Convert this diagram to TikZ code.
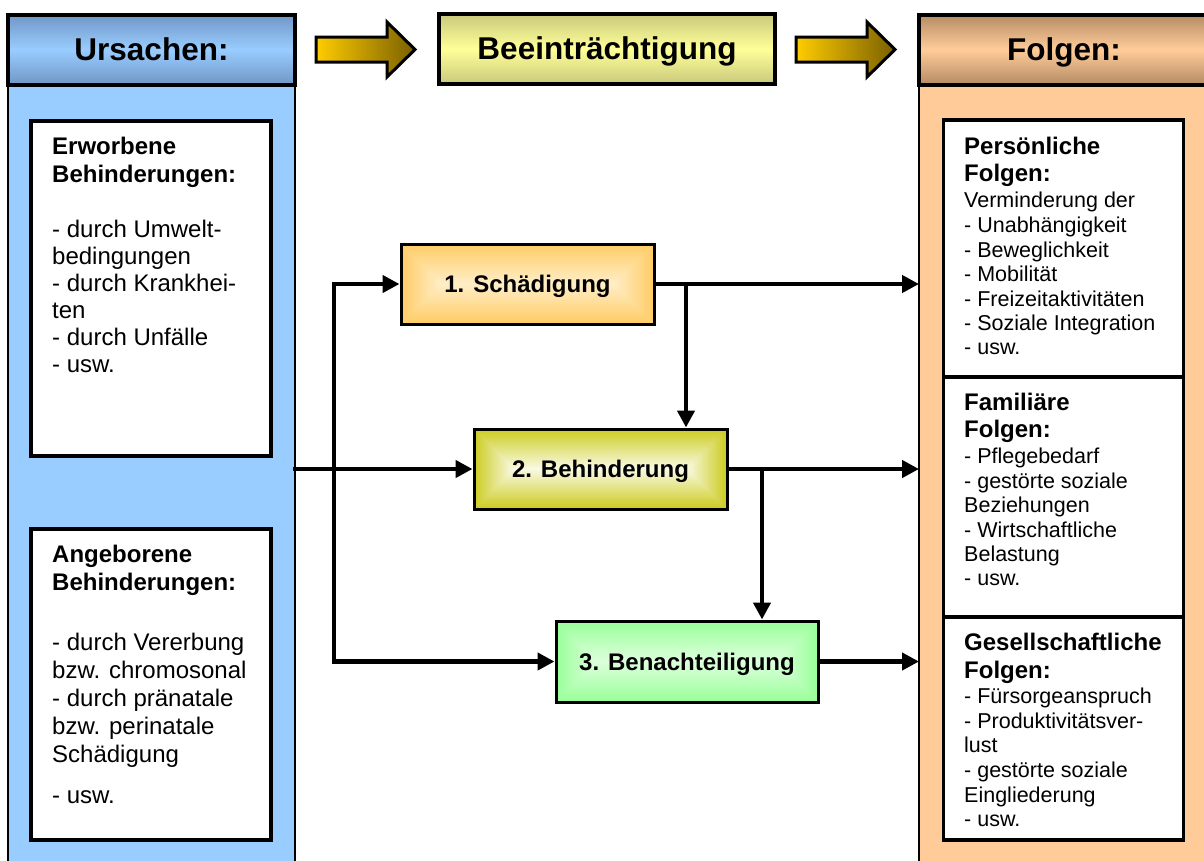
\documentclass[tikz,border=0pt]{standalone}
\usepackage{fontspec}
\setmainfont{Liberation Sans}
\usetikzlibrary{arrows.meta}

\definecolor{causefill}{HTML}{99CCFF}
\definecolor{causeshade}{HTML}{7097C6}
\definecolor{effectfill}{HTML}{FFCC99}
\definecolor{effectshade}{HTML}{B58B64}
\definecolor{impfill}{HTML}{FFFF99}
\definecolor{impshade}{HTML}{C9C97C}
\definecolor{harmout}{HTML}{FFCC66}
\definecolor{harmin}{HTML}{FFEEC8}
\definecolor{disout}{HTML}{CCCC22}
\definecolor{disin}{HTML}{FAFAE6}
\definecolor{handout}{HTML}{99FF99}
\definecolor{handin}{HTML}{DDFFDD}
\definecolor{arrowgold}{HTML}{FFCC00}
\definecolor{arrowdark}{HTML}{7A6000}

% rectangular glow: equal-inset rectangles from the outer colour to the inner one
% #1,#2 = upper left corner, #3,#4 = lower right corner, #5 = outer, #6 = inner colour
\newcommand\rectglow[6]{%
  \foreach \k in {0,...,40}{%
    \pgfmathsetmacro\ins{\k/40*((#4)-(#2))/2}%
    \pgfmathtruncatemacro\mix{100*\k/40}%
    \fill[#6!\mix!#5] ({#1+\ins},{#2+\ins}) rectangle ({#3-\ins},{#4-\ins});
  }}

% block arrow pointing right, #1 = left end of the shaft, #2 = tip (x only)
\newcommand\blockarrow[2]{%
  \shade[left color=arrowgold, right color=arrowdark, draw=black, line width=3pt,
         line join=miter]
    (#1,37) -- ({#2-28},37) -- ({#2-28},22) -- (#2,49.5) -- ({#2-28},77)
    -- ({#2-28},62) -- (#1,62) -- cycle;}

\newcommand\boxhead[1]{{\fontsize{24}{28}\selectfont\bfseries #1}}

\begin{document}
\begin{tikzpicture}[x=1pt,y=-1pt,
  column/.style={draw, line width=2pt, inner sep=0pt, outer sep=0pt, anchor=north west},
  header/.style={draw, line width=4pt, inner sep=0pt,
    font=\bfseries\fontsize{31.5}{36}\selectfont, text height=21pt, text depth=0pt},
  itembox/.style={draw, line width=3.5pt, fill=white, inner sep=0pt, outer sep=0pt,
    anchor=north west, minimum width=240pt},
  stage/.style={draw, line width=3pt, inner sep=0pt,
    font=\bfseries\fontsize{24}{28}\selectfont, text height=17pt, text depth=0pt},
  causetext/.style={anchor=base west, inner sep=0pt, font=\fontsize{24}{28}\selectfont},
  effecttext/.style={anchor=base west, inner sep=0pt, font=\fontsize{21.5}{25}\selectfont},
  link/.style={line width=4.5pt, line cap=rect, -{Triangle[length=17pt,width=17pt]}}
]
\useasboundingbox (0,0) rectangle (1204,860);
\clip (0,0) rectangle (1204,860);

% the two side columns
\node[column, fill=causefill, minimum width=287pt, minimum height=790pt] (causecol) at (8,86) {};
\node[column, fill=effectfill, minimum width=300pt, minimum height=790pt] (effectcol) at (919,86) {};

% headers
\node[header, top color=causeshade, bottom color=causeshade, middle color=causefill,
      minimum width=287pt, minimum height=70pt] (cause) at (151.5,49.5) {Ursachen:};
\node[header, top color=impshade, bottom color=impshade, middle color=impfill,
      minimum width=336pt, minimum height=70pt] (impair) at (607,49) {Beeinträchtigung};
\node[header, top color=effectshade, bottom color=effectshade, middle color=effectfill,
      minimum width=290pt, minimum height=70pt] (effect) at (1064,49.5) {Folgen:};

% block arrows between the headers
\blockarrow{316}{415}
\blockarrow{796}{895}

% causes
\node[itembox, minimum height=335pt] (acquired) at (31,121) {};
\node[itembox, minimum height=311pt] (inborn) at (31,529) {};

\foreach \yy/\txt [count=\k] in {154/{\bfseries Erworbene}, 182/{\bfseries Behinderungen:},
    237/{- durch Umwelt-}, 264/{bedingungen}, 291/{- durch Krankhei-}, 318/{ten},
    345/{- durch Unfälle}, 372/{- usw.}}
  \node[causetext] (acq-\k) at (52,\yy) {\txt};

\foreach \yy/\txt [count=\k] in {562/{\bfseries Angeborene}, 590/{\bfseries Behinderungen:},
    650/{- durch Vererbung}, 678/{bzw. chromosonal}, 706/{- durch pränatale},
    734/{bzw. perinatale}, 762/{Schädigung}, 803/{- usw.}}
  \node[causetext] (inb-\k) at (52,\yy) {\txt};

% consequences
\node[itembox, minimum height=257pt] (personal) at (943.5,120) {};
\node[itembox, minimum height=240pt] (family) at (943.5,377) {};
\node[itembox, minimum height=223pt] (social) at (943.5,617) {};

\foreach \yy/\txt [count=\k] in {154/{\boxhead{Persönliche}}, 181/{\boxhead{Folgen:}},
    207/{Verminderung der}, 232/{- Unabhängigkeit}, 257/{- Beweglichkeit},
    281/{- Mobilität}, 306/{- Freizeitaktivitäten}, 330/{- Soziale Integration}, 354/{- usw.}}
  \node[effecttext] (per-\k) at (964,\yy) {\txt};

\foreach \yy/\txt [count=\k] in {410/{\boxhead{Familiäre}}, 437/{\boxhead{Folgen:}},
    463/{- Pflegebedarf}, 488/{- gestörte soziale}, 512/{Beziehungen},
    537/{- Wirtschaftliche}, 561/{Belastung}, 585/{- usw.}}
  \node[effecttext] (fam-\k) at (964,\yy) {\txt};

\foreach \yy/\txt [count=\k] in {650/{\boxhead{Gesellschaftliche}}, 678/{\boxhead{Folgen:}},
    703/{- Fürsorgeanspruch}, 728/{- Produktivitätsver-}, 752/{lust},
    777/{- gestörte soziale}, 802/{Eingliederung}, 826/{- usw.}}
  \node[effecttext] (soc-\k) at (964,\yy) {\txt};

% the three stages
\rectglow{401}{244}{654}{324}{harmout}{harmin}
\node[stage, minimum width=253pt, minimum height=80pt] (harm) at (527.5,284) {1. Schädigung};
\rectglow{474}{429}{727}{509}{disout}{disin}
\node[stage, minimum width=253pt, minimum height=80pt] (disab) at (600.5,469) {2. Behinderung};
\rectglow{556}{621}{818}{702}{handout}{handin}
\node[stage, minimum width=262pt, minimum height=81pt] (handi) at (687,661.5) {3. Benachteiligung};

% connectors
\coordinate (trunk) at (334,0);
\coordinate (dropA) at (686,0);
\coordinate (dropB) at (762,0);

\draw[link] (causecol.east |- disab.west) -- (disab.west);
\draw[link] (trunk |- handi.west) -- (handi.west);
\draw[link] (trunk |- handi.west) -- (trunk |- harm.west) -- (harm.west);

\draw[link] (harm.east) -- (harm.east -| effectcol.west);
\draw[link] (dropA |- harm.east) -- (dropA |- disab.north);
\draw[link] (disab.east) -- (disab.east -| effectcol.west);
\draw[link] (dropB |- disab.east) -- (dropB |- handi.north);
\draw[link] (handi.east) -- (handi.east -| effectcol.west);
\end{tikzpicture}
\end{document}
